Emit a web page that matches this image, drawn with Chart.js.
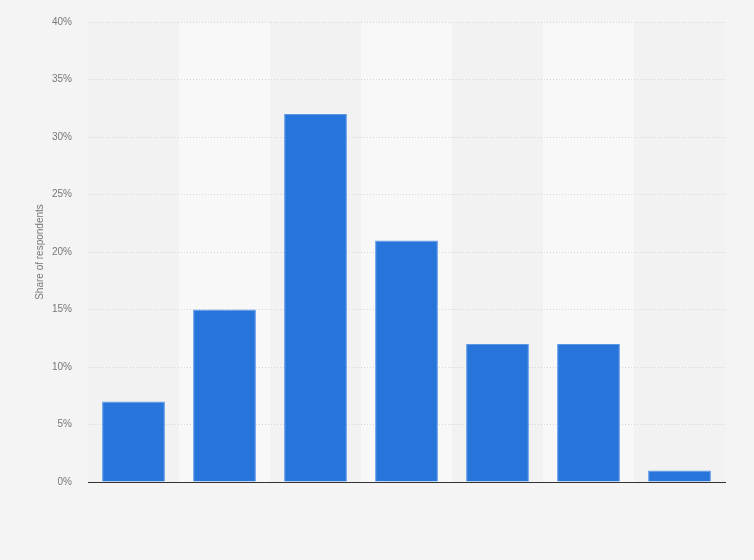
<!DOCTYPE html>
<html>
<head>
<meta charset="utf-8">
<script src="https://cdn.jsdelivr.net/npm/chart.js@4"></script>
<style>
  html, body { margin: 0; padding: 0; background: #f4f4f4; }
  #wrap { width: 754px; height: 560px; position: relative; }
</style>
</head>
<body>
<div id="wrap"><canvas id="chart"></canvas></div>
<script>
// DATOS
const categories = ['1', '2', '3', '4', '5', '6', '7'];
const shareValues = [7, 15, 32, 21, 12, 12, 1];
const yTicks = [0, 5, 10, 15, 20, 25, 30, 35, 40];

Chart.defaults.font.family = "Arial, 'Liberation Sans', sans-serif";
Chart.defaults.color = '#777';

// Fondo + bandas alternadas por columna
const bandsPlugin = {
  id: 'bands',
  beforeDraw(chart) {
    const { ctx, chartArea, scales } = chart;
    ctx.save();
    ctx.fillStyle = '#f4f4f4';
    ctx.fillRect(0, 0, chart.width, chart.height);
    const x = scales.x;
    const step = x.getPixelForValue(1) - x.getPixelForValue(0);
    ctx.fillStyle = '#f2f2f2';
    ctx.fillRect(chartArea.left, chartArea.top, chartArea.right - chartArea.left, chartArea.bottom - chartArea.top);
    ctx.fillStyle = '#f8f8f8';
    categories.forEach((c, i) => {
      if (i % 2 === 1) {
        const cx = x.getPixelForValue(i);
        ctx.fillRect(cx - step / 2, chartArea.top, step, chartArea.bottom - chartArea.top);
      }
    });
    ctx.restore();
  }
};

new Chart(document.getElementById('chart'), {
  type: 'bar',
  data: {
    labels: categories,
    datasets: [{
      data: shareValues,
      backgroundColor: '#2775db',
      borderColor: '#5c97e6',
      borderWidth: { top: 1, left: 1, right: 1, bottom: 0 },
      barPercentage: 0.69,
      categoryPercentage: 1
    }]
  },
  options: {
    responsive: true,
    maintainAspectRatio: false,
    animation: false,
    layout: { padding: { left: 30, right: 29, top: 20, bottom: 78 } },
    plugins: { legend: { display: false }, tooltip: { enabled: false } },
    scales: {
      x: {
        grid: { display: false },
        ticks: { display: false },
        border: { display: true, color: '#333', width: 1 },
        afterFit(s) { s.height = 0; }
      },
      y: {
        min: 0,
        max: 40,
        afterBuildTicks(s) { s.ticks = yTicks.map(v => ({ value: v })); },
        afterFit(s) { s.width = 58; },
        ticks: {
          padding: 16,
          font: { size: 10 },
          color: '#777',
          callback: v => v + '%'
        },
        grid: { color: '#d6d6d6', drawTicks: false, lineWidth: 1 },
        border: { display: false, dash: [1, 2] },
        title: {
          display: true,
          text: 'Share of respondents',
          font: { size: 10 },
          color: '#777',
          padding: { top: 4, bottom: 0 }
        }
      }
    }
  },
  plugins: [bandsPlugin]
});
</script>
</body>
</html>
